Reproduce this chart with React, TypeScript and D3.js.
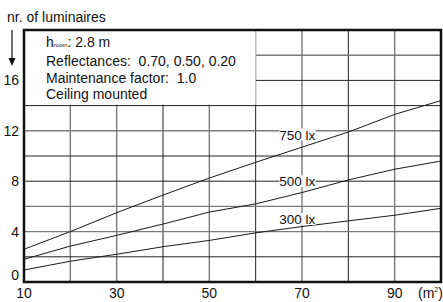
import React from 'react';
import * as d3 from 'd3';

// room area (m²)
const areas = [10, 20, 30, 40, 50, 60, 70, 80, 90, 100];
// number of luminaires per illuminance level
const lux750 = [2.6, 4.0, 5.5, 6.9, 8.25, 9.5, 10.7, 11.9, 13.3, 14.4];
const lux500 = [1.8, 2.85, 3.7, 4.6, 5.55, 6.2, 7.1, 8.1, 8.95, 9.6];
const lux300 = [0.95, 1.65, 2.2, 2.8, 3.3, 3.9, 4.4, 4.85, 5.3, 5.85];
const seriesNames = ['750 lx', '500 lx', '300 lx'];

const xTicks = [10, 30, 50, 70, 90];
const yTicks = [0, 4, 8, 12, 16];
const xGrid = [20, 30, 40, 50, 60, 70, 80, 90];
const yGrid = [2, 4, 6, 8, 10, 12, 14, 16, 18];
const darkX = [40, 60, 80];
const darkY = [2, 8, 10, 14, 16];

const W = 443;
const H = 302;
const margin = { top: 30, right: 2, bottom: 20, left: 24 };

export default function App() {
  const x = d3.scaleLinear().domain([10, 100]).range([margin.left, W - margin.right]);
  const y = d3.scaleLinear().domain([0, 20]).range([H - margin.bottom, margin.top]);

  const line = d3
    .line<number>()
    .x((_, i) => x(areas[i]))
    .y((d) => y(d));

  const series = [lux750, lux500, lux300];
  // where the curve labels sit (data units)
  const labelPos = [
    { x: 69, y: 11.7 },
    { x: 69, y: 8.0 },
    { x: 69, y: 5.0 },
  ];

  const font = "'Liberation Sans', Arial, sans-serif";

  return (
    <svg
      width={W}
      height={H}
      style={{ position: 'absolute', left: 0, top: 0, background: '#fff' }}
      fontFamily={font}
    >
      {/* grid */}
      {xGrid.map((v) => (
        <line
          key={'gx' + v}
          x1={x(v)}
          x2={x(v)}
          y1={y(0)}
          y2={y(20)}
          stroke={darkX.includes(v) ? '#222' : '#7a7a7a'}
          strokeWidth={darkX.includes(v) ? 1 : 1.4}
        />
      ))}
      {yGrid.map((v) => (
        <line
          key={'gy' + v}
          x1={x(10)}
          x2={x(100)}
          y1={y(v)}
          y2={y(v)}
          stroke={darkY.includes(v) ? '#222' : '#7a7a7a'}
          strokeWidth={darkY.includes(v) ? 1 : 1.4}
        />
      ))}

      {/* info box */}
      <rect x={x(10)} y={y(20)} width={x(60) - x(10)} height={y(14) - y(20) - 1} fill="#fff" />
      <g fontSize={14} fill="#111">
        <text x={46} y={47} xmlSpace="preserve">
          h<tspan fontSize={6}>room</tspan>: 2.8 m
        </text>
        <text x={46} y={66} xmlSpace="preserve">{'Reflectances:  0.70, 0.50, 0.20'}</text>
        <text x={46} y={83} xmlSpace="preserve">{'Maintenance factor:  1.0'}</text>
        <text x={46} y={99}>Ceiling mounted</text>
      </g>

      {/* curves */}
      {series.map((s, i) => (
        <path key={'s' + i} d={line(s) ?? ''} fill="none" stroke="#1a1a1a" strokeWidth={1} />
      ))}

      {/* curve labels */}
      {seriesNames.map((n, i) => (
        <g key={'l' + i}>
          <rect
            x={x(labelPos[i].x) - 18}
            y={y(labelPos[i].y) - 6}
            width={36}
            height={12}
            fill="#fff"
          />
          <text
            x={x(labelPos[i].x)}
            y={y(labelPos[i].y) + 5}
            textAnchor="middle"
            fontSize={13.5}
            fill="#111"
          >
            {n}
          </text>
        </g>
      ))}

      {/* frame */}
      <rect
        x={x(10)}
        y={y(20)}
        width={x(100) - x(10)}
        height={y(0) - y(20)}
        fill="none"
        stroke="#111"
        strokeWidth={2.5}
      />

      {/* y ticks */}
      {yTicks.map((v) => (
        <text
          key={'yt' + v}
          x={19}
          y={y(v) + 5 - (v === 0 ? 7 : 0)}
          textAnchor="end"
          fontSize={14}
          fill="#111"
        >
          {v}
        </text>
      ))}
      {/* x ticks */}
      {xTicks.map((v) => (
        <text key={'xt' + v} x={x(v)} y={298} textAnchor="middle" fontSize={14} fill="#111">
          {v}
        </text>
      ))}
      <text x={418} y={298} fontSize={14} fill="#111">
        (m<tspan fontSize={7} dy={-6}>2</tspan>
        <tspan dy={6}>)</tspan>
      </text>

      {/* y axis title and arrow */}
      <text x={7} y={22} fontSize={14} fill="#111">
        nr. of luminaires
      </text>
      <line x1={12} x2={12} y1={30} y2={60} stroke="#111" strokeWidth={1.2} />
      <path d="M8.5,58 L15.5,58 L12,66 Z" fill="#111" />
    </svg>
  );
}
